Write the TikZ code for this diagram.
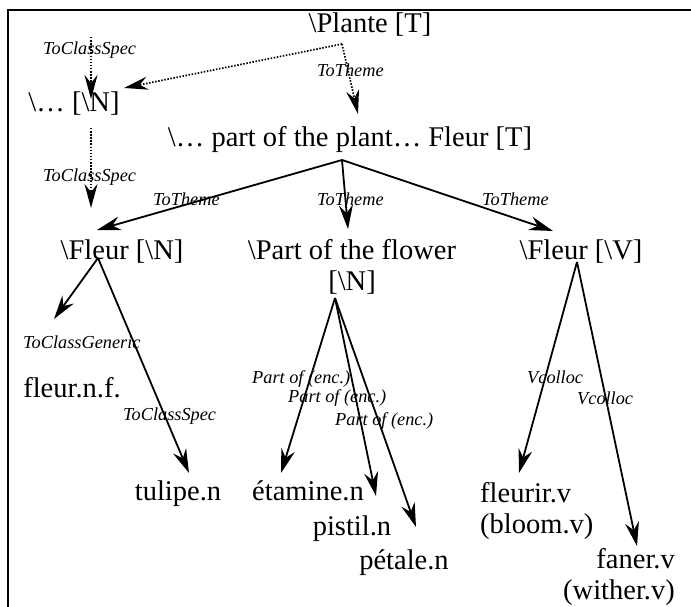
\documentclass[tikz,border=0pt]{standalone}
\usepackage{fontspec}
\setmainfont{Liberation Serif}
\usetikzlibrary{arrows.meta}
\tikzset{
  lex/.style={inner sep=0pt, anchor=base, font=\fontsize{28.5}{31}\selectfont},
  lbl/.style={inner sep=0pt, anchor=base west, font=\fontsize{18.3}{20}\selectfont\itshape},
  rel/.style={line width=1.8pt, -{Stealth[length=24pt,width=14pt,inset=8pt]}},
  dotrel/.style={line width=1.7pt, dash pattern=on 1.5pt off 1.6pt, -{Stealth[length=24pt,width=13pt,inset=8pt,sep=0pt]}},
  frame/.style={line width=2pt}
}
\begin{document}
\begin{tikzpicture}[x=1pt,y=-1pt]
\useasboundingbox (0,0) rectangle (691,607);
\fill[white] (0,0) rectangle (691,607);
% frame
\coordinate (fr-tr) at (691,10);
\coordinate (fr-tl) at (7.7,10);
\coordinate (fr-bl) at (7.7,607);
\draw[frame] (fr-tr) -- (fr-tl) -- (fr-bl);

% nodes
\node[lex] (plante) at (370,33) {\textbackslash Plante [T]};
\node[lex] (dotsN) at (74,112) {\textbackslash … [\textbackslash N]};
\node[lex] (partplant) at (350,147) {\textbackslash … part of the plant… Fleur [T]};
\node[lex] (fleurN) at (122,259) {\textbackslash Fleur [\textbackslash N]};
\node[lex] (partflower) at (352,259) {\begin{tabular}[t]{@{}c@{}}\textbackslash Part of the flower\\{}[\textbackslash N]\end{tabular}};
\node[lex] (fleurV) at (581,259) {\textbackslash Fleur [\textbackslash V]};
\node[lex] (fleurnf) at (72,397) {fleur.n.f.};
\node[lex] (tulipe) at (178,500) {tulipe.n};
\node[lex] (etamine) at (308,500) {étamine.n};
\node[lex] (pistil) at (352,535) {pistil.n};
\node[lex] (petale) at (404,569) {pétale.n};
\node[lex, anchor=base west] (fleurir) at (480,502) {\begin{tabular}[t]{@{}l@{}}fleurir.v\\(bloom.v)\end{tabular}};
\node[lex, anchor=base east] (faner) at (675,568) {\begin{tabular}[t]{@{}r@{}}faner.v\\(wither.v)\end{tabular}};

% connector points
\coordinate (top-s) at (91,37);
\coordinate (dotsN-in) at (91,99);
\coordinate (plante-s) at (342,44);
\coordinate (dotsN-r) at (124,88);
\coordinate (partplant-in) at (358,114);
\coordinate (dotsN-s) at (91,128);
\coordinate (fleurN-in) at (91,208);
\coordinate (partplant-s) at (342,160);
\coordinate (fleurN-in2) at (97,230);
\coordinate (partflower-in) at (348,229);
\coordinate (fleurV-in) at (553,231);
\coordinate (fleurN-s) at (98,258);
\coordinate (fleurnf-in) at (54,319);
\coordinate (tulipe-in) at (189,473);
\coordinate (partflower-s) at (335,298);
\coordinate (etamine-in) at (281,473);
\coordinate (pistil-in) at (376,496);
\coordinate (petale-in) at (416,527);
\coordinate (fleurV-s) at (577,262);
\coordinate (fleurir-in) at (519,473);
\coordinate (faner-in) at (637,546);

% dotted connectors
\draw[dotrel] (top-s) -- (dotsN-in);
\draw[dotrel] (plante-s) -- (dotsN-r);
\draw[dotrel] (plante-s) -- (partplant-in);
\draw[dotrel] (dotsN-s) -- (fleurN-in);

% solid connectors
\draw[rel] (partplant-s) -- (fleurN-in2);
\draw[rel] (partplant-s) -- (partflower-in);
\draw[rel] (partplant-s) -- (fleurV-in);
\draw[rel] (fleurN-s) -- (fleurnf-in);
\draw[rel] (fleurN-s) -- (tulipe-in);
\draw[rel] (partflower-s) -- (etamine-in);
\draw[rel] (partflower-s) -- (pistil-in);
\draw[rel] (partflower-s) -- (petale-in);
\draw[rel] (fleurV-s) -- (fleurir-in);
\draw[rel] (fleurV-s) -- (faner-in);

% labels
\node[lbl] (l1) at (43,55) {ToClassSpec};
\node[lbl] (l2) at (317,77) {ToTheme};
\node[lbl] (l3) at (43,182) {ToClassSpec};
\node[lbl] (l4) at (153,205) {ToTheme};
\node[lbl] (l5) at (317,205) {ToTheme};
\node[lbl] (l6) at (482,205) {ToTheme};
\node[lbl] (l7) at (23,348) {ToClassGeneric};
\node[lbl] (l8) at (123,420) {ToClassSpec};
\node[lbl] (l9) at (252,383) {Part of (enc.)};
\node[lbl] (l10) at (288,402) {Part of (enc.)};
\node[lbl] (l11) at (335,425) {Part of (enc.)};
\node[lbl] (l12) at (527,383) {Vcolloc};
\node[lbl] (l13) at (577,404) {Vcolloc};
\end{tikzpicture}
\end{document}
